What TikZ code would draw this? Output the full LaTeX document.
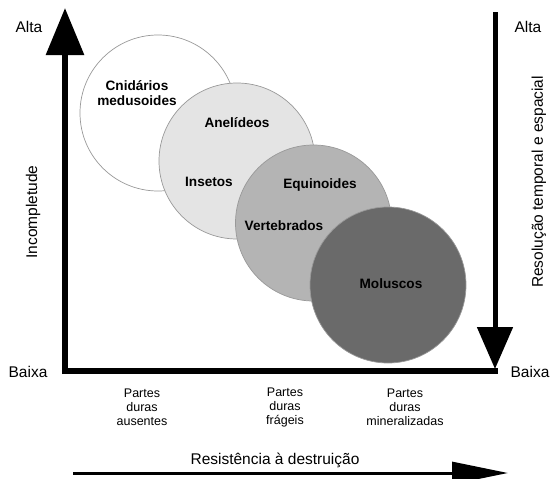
\documentclass[tikz,border=0pt]{standalone}
\usepackage{fontspec}
\setmainfont{Liberation Sans}
\usetikzlibrary{arrows.meta}
\definecolor{cwhite}{HTML}{FFFFFF}
\definecolor{clight}{HTML}{E4E4E4}
\definecolor{cmid}{HTML}{B4B4B4}
\definecolor{cdark}{HTML}{6A6A6A}
\definecolor{cedge}{HTML}{999999}
\tikzset{
  blob/.style={circle, minimum size=156pt, inner sep=0pt, draw=cedge, line width=0.7pt},
  taxon/.style={font=\fontsize{13.6}{15.5}\selectfont\bfseries, align=center, inner sep=0pt},
  axislabel/.style={font=\fontsize{15.5}{18}\selectfont, inner sep=0pt},
  partlabel/.style={font=\fontsize{12.5}{14}\selectfont, align=center, inner sep=0pt},
  axisline/.style={line width=6pt, black},
}
\begin{document}
\begin{tikzpicture}[x=1pt, y=-1pt]
\useasboundingbox (0,0) rectangle (550,479);
% circles
\node[blob, fill=cwhite] (c1) at (158,113) {};
\node[blob, fill=clight] (c2) at (237,161) {};
\node[blob, fill=cmid]   (c3) at (313.5,223) {};
\node[blob, fill=cdark]  (c4) at (388,285) {};
% taxon labels
\node[taxon] (cni) at (137,93) {Cnidários\\medusoides};
\node[taxon] (ane) at (237,123) {Anelídeos};
\node[taxon] (ins) at (209,182) {Insetos};
\node[taxon] (equ) at (320,185) {Equinoides};
\node[taxon] (ver) at (284,226) {Vertebrados};
\node[taxon] (mol) at (391,284) {Moluscos};
% axes
\coordinate (corner) at (65,371);
\coordinate (topL) at (65,8);
\coordinate (botR) at (498,371);
\coordinate (topR) at (495,12);
\coordinate (tipR) at (495,369);
\draw[axisline, line cap=butt] (62,371) -- (botR);
\draw[axisline, -{Triangle[length=47pt,width=37pt]}] (65,374) -- (topL);
\draw[line width=5pt, -{Triangle[length=42pt,width=35pt]}] (topR) -- (tipR);
% axis labels
\node[axislabel] (altaL) at (29,27) {Alta};
\node[axislabel] (baixaL) at (28,372) {Baixa};
\node[axislabel] (altaR) at (528,27) {Alta};
\node[axislabel] (baixaR) at (530,372) {Baixa};
\node[axislabel, rotate=90] (inc) at (33,212) {Incompletude};
\node[axislabel, rotate=90] (res) at (539,182) {Resolução temporal e espacial};
% bottom part labels
\node[partlabel] (p1) at (142,407) {Partes\\duras\\ausentes};
\node[partlabel] (p2) at (285,407) {Partes\\duras\\frágeis};
\node[partlabel] (p3) at (405,407) {Partes\\duras\\mineralizadas};
% bottom arrow
\node[axislabel] (resist) at (275,460) {Resistência à destruição};
\coordinate (bs) at (73,473);
\coordinate (be) at (508,473);
\draw[line width=3pt, -{Triangle[length=56pt,width=22pt]}] (bs) -- (be);
\end{tikzpicture}
\end{document}
